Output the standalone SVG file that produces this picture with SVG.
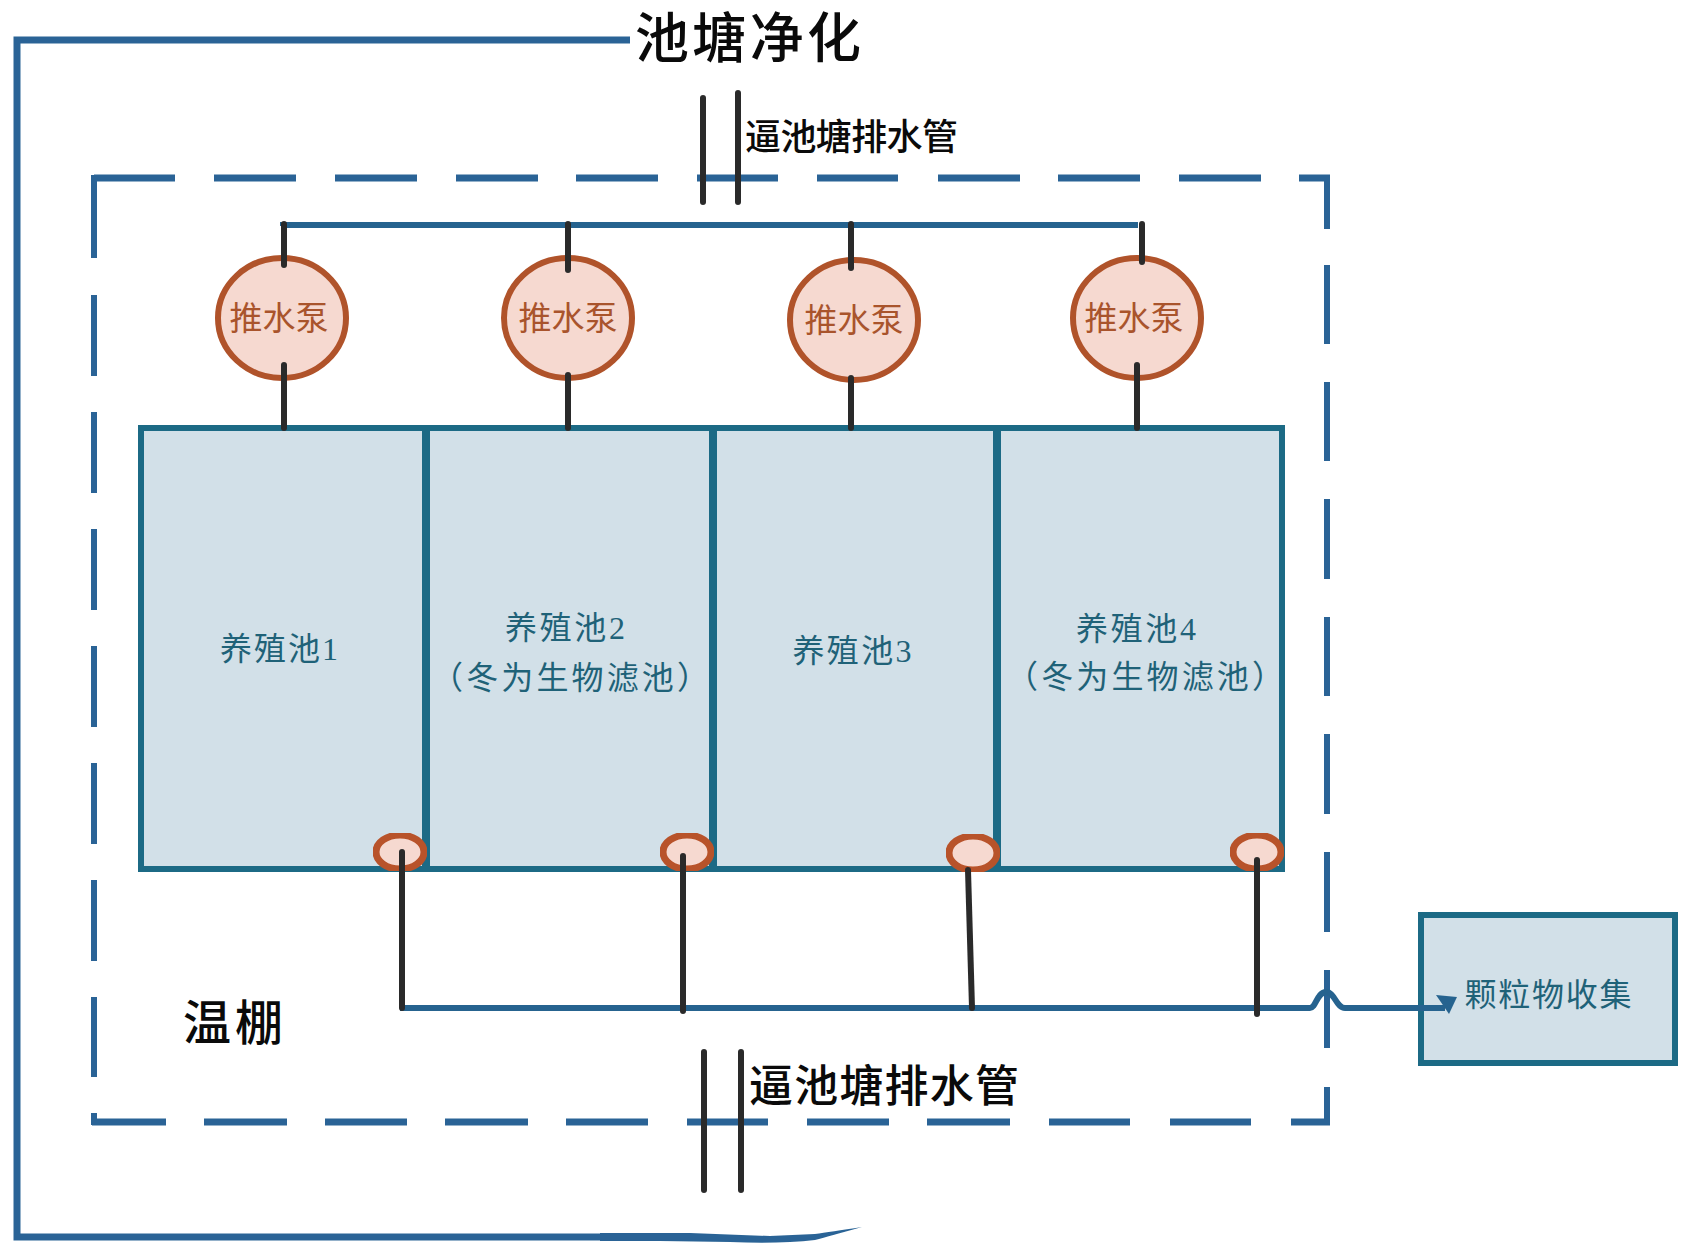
<svg xmlns="http://www.w3.org/2000/svg" width="1687" height="1260" viewBox="0 0 1687 1260">
<defs><filter id="soft" x="-5%" y="-5%" width="110%" height="110%"><feGaussianBlur stdDeviation="0.7"/></filter></defs>
<style>
text{font-family:"Liberation Serif","Noto Sans CJK SC",serif}
.blue{fill:none;stroke:#2a6496;stroke-width:7}
.v{stroke-width:6}
.thin{fill:none;stroke:#27648f;stroke-width:6}
.blk{fill:none;stroke:#2b2b2b;stroke-width:6;stroke-linecap:round}
.tank{fill:#d2e0e8;stroke:#1f6a85;stroke-width:6}
.div{stroke:#1f6a85;stroke-width:8}
.pump{fill:#f6d9d0;stroke:#b0522a;stroke-width:6}
.val{fill:#f6d9d0;stroke:#b8532a;stroke-width:7}
.pt{fill:#a9542c;font-size:33px;text-anchor:middle}
.tt{fill:#1f6278;font-size:32px;text-anchor:middle}
.bk{fill:#0a0a0a;font-weight:500}
.s{filter:url(#soft)}
</style>
<g id="tanks">
<g id="tank-1"><rect class="tank s" x="141" y="428" width="285" height="441"/><text class="tt" x="279" y="660" textLength="118">养殖池1</text></g>
<g id="tank-2"><rect class="tank s" x="426" y="428" width="287" height="441"/><text class="tt" x="565" y="639" textLength="120">养殖池2</text><text class="tt" x="570" y="689" textLength="278">（冬为生物滤池）</text></g>
<g id="tank-3"><rect class="tank s" x="713" y="428" width="284" height="441"/><text class="tt" x="852" y="662" textLength="119">养殖池3</text></g>
<g id="tank-4"><rect class="tank s" x="997" y="428" width="285" height="441"/><text class="tt" x="1136" y="640" textLength="120">养殖池4</text><text class="tt" x="1145" y="688" textLength="278">（冬为生物滤池）</text></g>
<path class="div s" d="M426 428V869M713 428V869M997 428V869"/>
</g>
<g id="collector"><rect class="tank s" x="1421" y="915" width="254" height="148"/><text class="tt" x="1548" y="1006" textLength="167">颗粒物收集</text></g>
<g id="pumps">
<g id="pump-1"><ellipse class="pump s" cx="282" cy="318" rx="64" ry="60"/><text class="pt" x="279" y="330" textLength="99">推水泵</text></g>
<g id="pump-2"><ellipse class="pump s" cx="568" cy="318" rx="64" ry="60"/><text class="pt" x="568" y="330" textLength="99">推水泵</text></g>
<g id="pump-3"><ellipse class="pump s" cx="854" cy="320" rx="64" ry="60"/><text class="pt" x="854" y="332" textLength="99">推水泵</text></g>
<g id="pump-4"><ellipse class="pump s" cx="1137" cy="318" rx="64" ry="60"/><text class="pt" x="1134" y="330" textLength="99">推水泵</text></g>
</g>
<g id="valves">
<ellipse id="valve-1" class="val s" cx="400" cy="852" rx="24" ry="17"/>
<ellipse id="valve-2" class="val s" cx="687" cy="852" rx="24" ry="17"/>
<ellipse id="valve-3" class="val s" cx="973" cy="853" rx="24" ry="17"/>
<ellipse id="valve-4" class="val s" cx="1257" cy="852" rx="24" ry="17"/>
</g>
<g id="connectors" class="s">
<path class="blue" d="M630 40H17V1237H600"/>
<path fill="#2a6496" d="M600 1233H690L770 1236 815 1234Q830 1232 862 1227 830 1236 815 1240 780 1244 730 1242 L660 1241H600Z"/>
<g class="blue">
<path d="M94 178H175M214 178H296M335 178H417M456 178H538M576 178H658M697 178H778M817 178H898M938 178H1020M1058 178H1140M1179 178H1261M1299 178H1330"/>
<path class="v" d="M94 175V258M94 295V376M94 412V493M94 529V610M94 646V727M94 763V844M94 880V961M94 997V1077M94 1113V1125"/>
<path class="v" d="M1327 178V229M1327 265V344M1327 382V461M1327 499V579M1327 617V696M1327 734V814M1327 852V932M1327 970V1048M1327 1087V1125"/>
<path d="M92 1122H166M204 1122H287M325 1122H407M445 1122H528M566 1122H648M687 1122H768M807 1122H889M927 1122H1010M1049 1122H1130M1170 1122H1251M1291 1122H1330"/>
</g>
<path class="thin" d="M283 226V225H1138"/>
<path class="thin" d="M400 1008H1310C1316 1008 1317 992 1326 992C1335 992 1336 1008 1345 1008H1445"/>
<path fill="#27648f" d="M1436 995L1457 997 1449 1014Z"/>
<g class="blk">
<path d="M284 224V265M284 365V428M568 224V270M568 375V428M851 224V268M851 378V428M1142 224V262M1137 365V428"/>
<path d="M402 852V1008M683 856V1011M968 870L972 1008M1257 860V1014"/>
<path d="M703 98V202M738 93V202M704 1052V1190M741 1052V1190"/>
</g>
</g>
<g id="labels">
<text class="bk" x="635" y="58" font-size="54" textLength="226">池塘净化</text>
<text class="bk" x="745" y="150" font-size="36" textLength="213">逼池塘排水管</text>
<text class="bk" x="749" y="1102" font-size="44" textLength="270">逼池塘排水管</text>
<text class="bk" x="183" y="1040" font-size="48" textLength="100">温棚</text>
</g>
</svg>
